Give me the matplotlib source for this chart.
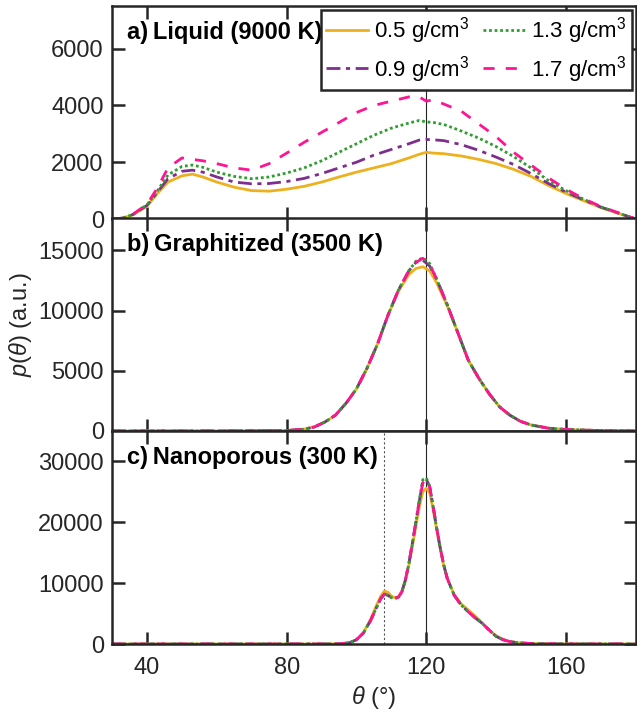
import numpy as np
import matplotlib
matplotlib.use('Agg')
from matplotlib import pyplot as plt

plt.rcParams['font.family'] = ['Liberation Sans', 'DejaVu Sans']
plt.rcParams['mathtext.fontset'] = 'custom'
plt.rcParams['mathtext.rm'] = 'Liberation Sans'
plt.rcParams['mathtext.it'] = 'Liberation Sans:italic'
plt.rcParams['font.size'] = 17

# ---- data ----
labels = ['0.5 g/cm$^3$', '0.9 g/cm$^3$', '1.3 g/cm$^3$', '1.7 g/cm$^3$']

# a) liquid 9000 K
theta_a = [30, 33, 36, 40, 43, 46, 50, 53, 56, 60, 65, 70, 75, 80, 85, 90, 95, 100, 105, 110,
           115, 118, 120, 122, 125, 130, 135, 140, 145, 150, 155, 160, 165, 170, 175, 180]
liq_05 = [0, 30, 150, 450, 900, 1300, 1520, 1580, 1480, 1300, 1120, 1000, 980, 1050, 1150, 1300,
          1480, 1650, 1800, 1950, 2150, 2280, 2350, 2320, 2300, 2220, 2100, 1950, 1750, 1500,
          1180, 900, 650, 400, 200, 0]
liq_09 = [0, 30, 160, 480, 950, 1420, 1680, 1720, 1650, 1480, 1300, 1240, 1250, 1320, 1430, 1600,
          1800, 2000, 2250, 2450, 2650, 2780, 2800, 2790, 2760, 2620, 2420, 2180, 1920, 1600,
          1250, 950, 680, 420, 210, 0]
liq_13 = [0, 30, 160, 500, 1000, 1550, 1850, 1900, 1820, 1650, 1500, 1420, 1480, 1620, 1800, 2050,
          2350, 2650, 2950, 3200, 3380, 3470, 3420, 3400, 3330, 3100, 2850, 2550, 2200, 1800,
          1350, 1000, 700, 430, 210, 0]
liq_17 = [0, 30, 170, 520, 1100, 1800, 2150, 2100, 2050, 1950, 1800, 1720, 1950, 2320, 2700, 3050,
          3400, 3750, 4000, 4150, 4300, 4300, 4150, 4200, 4050, 3800, 3350, 2900, 2350, 1900,
          1450, 1050, 720, 440, 220, 0]

# b) graphitized 3500 K
theta_b = [30, 60, 80, 85, 88, 91, 94, 97, 100, 103, 106, 109, 112, 115, 117, 119, 121, 123, 126,
           129, 132, 135, 138, 141, 144, 147, 150, 155, 160, 170, 180]
gra_05 = [0, 0, 30, 150, 340, 750, 1320, 2300, 3500, 5200, 7200, 9600, 11600, 13000, 13500, 13650,
          13300, 12300, 10400, 8200, 5900, 4400, 3100, 2000, 1300, 800, 500, 230, 120, 30, 0]
gra_09 = [0, 0, 30, 150, 340, 750, 1320, 2300, 3500, 5200, 7200, 9600, 11700, 13300, 14000, 14200,
          13700, 12600, 10500, 8200, 5900, 4400, 3100, 2000, 1300, 800, 500, 230, 120, 30, 0]
gra_13 = [0, 0, 30, 150, 340, 750, 1320, 2300, 3500, 5200, 7200, 9600, 11700, 13300, 14100, 14400,
          13900, 12600, 10500, 8200, 5900, 4400, 3100, 2000, 1300, 800, 500, 230, 120, 30, 0]
gra_17 = [0, 0, 30, 150, 340, 750, 1320, 2300, 3500, 5200, 7200, 9600, 11700, 13300, 14000, 14350,
          13800, 12600, 10500, 8200, 5900, 4400, 3100, 2000, 1300, 800, 500, 230, 120, 30, 0]

# c) nanoporous 300 K
theta_c = [30, 90, 95, 98, 100, 102, 104, 106, 107, 108, 109, 110, 111, 112, 113, 114, 115, 116,
           117, 118, 119, 120, 121, 122, 123, 124, 125, 126, 128, 130, 132, 134, 136, 138, 140,
           142, 144, 147, 150, 155, 160, 180]
nan_05 = [0, 0, 20, 200, 700, 1900, 4000, 6700, 7900, 8700, 8500, 7900, 7600, 7700, 8500, 10300,
          12900, 16000, 19300, 22500, 25000, 25600, 24800, 22000, 18700, 15600, 12900, 10800, 8100,
          6600, 5600, 4600, 3500, 2300, 1350, 750, 400, 180, 80, 30, 10, 0]
nan_09 = [0, 0, 20, 200, 700, 1800, 3800, 6300, 7500, 8200, 8000, 7600, 7500, 7700, 8600, 10500,
          13200, 16500, 20000, 23500, 26700, 27100, 25800, 22500, 19000, 15800, 13000, 10800, 8000,
          6400, 5300, 4300, 3400, 2300, 1250, 700, 380, 170, 80, 30, 10, 0]
nan_13 = [0, 0, 20, 200, 700, 1800, 3800, 6300, 7500, 8200, 8000, 7600, 7500, 7700, 8600, 10500,
          13200, 16500, 20000, 23600, 27000, 27300, 25900, 22500, 19000, 15800, 13000, 10800, 8000,
          6400, 5300, 4300, 3400, 2300, 1250, 700, 380, 170, 80, 30, 10, 0]
nan_17 = [0, 0, 20, 200, 700, 1800, 3800, 6300, 7500, 8200, 8000, 7600, 7500, 7700, 8600, 10500,
          13200, 16500, 20000, 23500, 26500, 27200, 25800, 22500, 19000, 15800, 13000, 10800, 8000,
          6400, 5300, 4300, 3400, 2300, 1250, 700, 380, 170, 80, 30, 10, 0]

panel_titles = ['a)\u2009Liquid (9000 K)', 'b)\u2009Graphitized (3500 K)', 'c)\u2009Nanoporous (300 K)']
y_lims = [7500, 17700, 35000]
y_ticks = [[0, 2000, 4000, 6000], [0, 5000, 10000, 15000], [0, 10000, 20000, 30000]]
x_ticks = [40, 80, 120, 160]

colors = ['#EDB120', '#7E2F8E', '#2E9E2E', '#FF1493']
styles = ['-', (0, (5, 2, 1.5, 2)), (0, (1, 1)), (0, (4, 4))]
ink = '#262626'

panels = [
    (theta_a, [liq_05, liq_09, liq_13, liq_17]),
    (theta_b, [gra_05, gra_09, gra_13, gra_17]),
    (theta_c, [nan_05, nan_09, nan_13, nan_17]),
]

fig = plt.figure(figsize=(6.37, 7.19), dpi=100)
bottoms = [0.6954, 0.4006, 0.1043]
axes = []
for i in range(3):
    ax = fig.add_axes([0.176, bottoms[i], 0.822, 0.2962])
    axes.append(ax)
    th, series = panels[i]
    for k in range(4):
        ax.plot(th, series[k], color=colors[k], linestyle=styles[k], lw=2.0, label=labels[k])
    ax.axvline(120, color=ink, lw=0.8, zorder=0)
    if i == 2:
        ax.axvline(108, color='#555555', lw=0.8, linestyle=(0, (2, 2)), zorder=0)
    ax.set_xlim(30, 180)
    ax.set_ylim(0, y_lims[i])
    ax.set_xticks(x_ticks)
    ax.set_yticks(y_ticks[i])
    ax.tick_params(direction='in', length=9, width=1.8, top=True, right=True,
                   colors=ink, labelsize=17)
    ax.tick_params(axis='y', pad=6)
    ax.tick_params(axis='x', pad=9)
    for s in ax.spines.values():
        s.set_linewidth(1.8)
        s.set_color(ink)
    if i < 2:
        ax.tick_params(labelbottom=False)
    ax.text(0.028, 0.875, panel_titles[i], transform=ax.transAxes, fontsize=17,
            fontweight='bold', va='center', ha='left', color='black')

leg = axes[0].legend(ncol=2, loc='upper right', bbox_to_anchor=(0.992, 0.98), borderaxespad=0,
                     fontsize=16, handlelength=1.9, handletextpad=0.27, columnspacing=0.6,
                     labelspacing=0.35, borderpad=0.22, fancybox=False, framealpha=1)
leg.get_frame().set_edgecolor(ink)
leg.get_frame().set_linewidth(1.8)

axes[1].set_ylabel(r'$p(\theta)$ (a.u.)', fontsize=17, color=ink)
axes[1].yaxis.set_label_coords(-0.15, 0.5)
axes[2].set_xlabel(r'$\theta$ (°)', fontsize=17, color=ink, labelpad=4)

plt.savefig('out.png', dpi=100)
